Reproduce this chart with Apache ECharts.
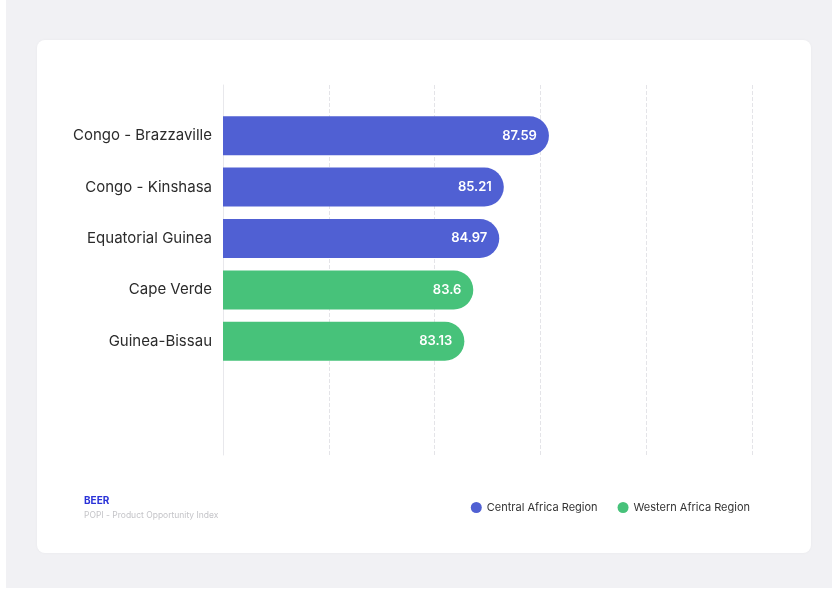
<!DOCTYPE html>
<html>
<head>
<meta charset="utf-8">
<script src="https://cdn.jsdelivr.net/npm/echarts@6/dist/echarts.min.js"></script>
<style>
html, body { margin: 0; padding: 0; background: #ffffff; }
#page { position: absolute; left: 6px; top: 0; width: 826px; height: 588px; background: #f1f1f4; }
#card { position: absolute; left: 37px; top: 40px; width: 774px; height: 513px; background: #fff;
  border-radius: 8px; box-shadow: 0 0 3px rgba(0,0,0,0.04); }
#main { position: absolute; left: 0; top: 0; width: 832px; height: 590px; }
</style>
</head>
<body>
<div id="page"></div>
<div id="card"></div>
<div id="main"></div>
<script>
// chart data
var countries = ['Congo - Brazzaville', 'Congo - Kinshasa', 'Equatorial Guinea', 'Cape Verde', 'Guinea-Bissau']
var values = [87.59, 85.21, 84.97, 83.6, 83.13]
var regions = ['Central Africa Region', 'Central Africa Region', 'Central Africa Region', 'Western Africa Region', 'Western Africa Region']
var regionNames = ['Central Africa Region', 'Western Africa Region']
var regionColors = ['#5060d3', '#47c27a']

var fontName = 'Inter'

function regionData(name) {
  var out = []
  for (var i = 0; i < values.length; i++) {
    out.push(regions[i] == name ? values[i] : '-')
  }
  return out
}

var series = regionNames.map(function (name, idx) {
  return {
    name: name,
    type: 'bar',
    xAxisIndex: 0,
    yAxisIndex: 0,
    barWidth: 39,
    barGap: '-100%',
    itemStyle: {
      color: regionColors[idx],
      borderRadius: [0, 20, 20, 0]
    },
    label: {
      show: true,
      position: 'insideRight',
      distance: 12,
      color: '#ffffff',
      fontFamily: fontName,
      fontSize: 13,
      fontWeight: 600
    },
    data: regionData(name)
  }
})

var myChart = echarts.init(document.getElementById('main'))
myChart.setOption({
  animation: false,
  title: {
    text: 'BEER',
    subtext: 'POPI - Product Opportunity Index',
    left: 79,
    top: 491,
    itemGap: 5,
    textStyle: { fontFamily: fontName, fontSize: 10, fontWeight: 'bold', color: '#2a32d8' },
    subtextStyle: { fontFamily: fontName, fontSize: 8.5, color: '#c4c4c8' }
  },
  legend: {
    data: regionNames,
    icon: 'circle',
    itemWidth: 11,
    itemHeight: 11,
    itemGap: 20,
    right: 77,
    top: 497,
    textStyle: { fontFamily: fontName, fontSize: 11, color: '#333' }
  },
  grid: [
    { left: 223, width: 529, top: 110, height: 257 },
    { left: 223, width: 529, top: 85, height: 370 }
  ],
  xAxis: [
    {
      type: 'value',
      gridIndex: 0,
      min: 70.4,
      max: 98.3,
      axisLabel: { show: false },
      axisLine: { show: false },
      axisTick: { show: false },
      splitLine: { show: false }
    },
    {
      type: 'value',
      gridIndex: 1,
      min: 0,
      max: 5,
      interval: 1,
      axisLabel: { show: false },
      axisLine: { show: false },
      axisTick: { show: false },
      splitLine: { show: true, lineStyle: { type: 'dashed', color: '#e4e4e8', width: 1 } }
    }
  ],
  yAxis: [
    {
      type: 'category',
      gridIndex: 0,
      inverse: true,
      data: countries,
      axisLine: { show: false },
      axisTick: { show: false },
      axisLabel: { margin: 11, fontFamily: fontName, fontSize: 15, color: '#2b2b2b' }
    },
    {
      type: 'value',
      gridIndex: 1,
      min: 0,
      max: 1,
      axisLabel: { show: false },
      axisTick: { show: false },
      splitLine: { show: false },
      axisLine: { show: true, lineStyle: { color: '#e8e8ec', width: 1 } }
    }
  ],
  series: series
})
</script>
</body>
</html>
